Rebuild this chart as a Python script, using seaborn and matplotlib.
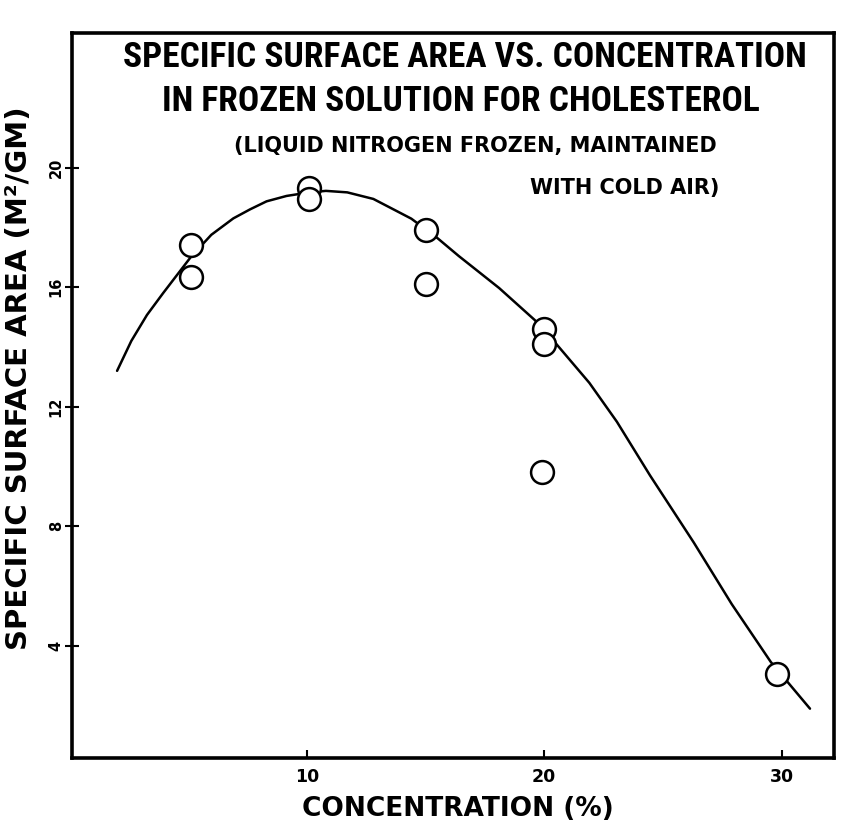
import matplotlib
matplotlib.use("Agg")
import matplotlib.pyplot as plt
import matplotlib.font_manager as fm
import seaborn as sns

# ---- data ----
conc = [5.1, 5.1, 10.1, 10.1, 15.0, 15.0, 20.0, 20.0, 19.9, 29.8]
area = [17.4, 16.35, 19.3, 18.95, 17.9, 16.1, 14.6, 14.1, 9.8, 3.05]

curve_x = [2.0, 2.6, 3.26, 3.94, 5.1, 5.97, 6.9, 7.6, 8.3, 9.14, 10.1, 10.8,
           11.7, 12.8, 13.65, 14.4, 15.5, 16.4, 17.1, 18.1, 19.6, 20.4, 21.9,
           23.06, 24.46, 26.3, 27.9, 29.55, 31.2]
curve_y = [13.2, 14.2, 15.07, 15.8, 17.0, 17.75, 18.3, 18.6, 18.87, 19.05, 19.17, 19.22,
           19.17, 18.95, 18.6, 18.29, 17.64, 17.04, 16.6, 15.97, 14.9, 14.2, 12.8,
           11.5, 9.7, 7.46, 5.4, 3.46, 1.9]

x_ticks = [10, 20, 30]
y_ticks = [4, 8, 12, 16, 20]

title_lines = ["SPECIFIC SURFACE AREA VS. CONCENTRATION",
               "IN FROZEN SOLUTION FOR CHOLESTEROL"]
note_lines = ["(LIQUID NITROGEN FROZEN, MAINTAINED",
              "WITH COLD AIR)"]
x_label = "CONCENTRATION (%)"
y_label = "SPECIFIC SURFACE AREA (M\u00b2/GM)"

sns.set_style("ticks")
plt.rcParams['font.family'] = ['DejaVu Sans']
plt.rcParams['text.color'] = 'black'
plt.rcParams['axes.labelcolor'] = 'black'
plt.rcParams['xtick.color'] = 'black'
plt.rcParams['ytick.color'] = 'black'

names = {f.name for f in fm.fontManager.ttflist}
narrow = None
for n in ['Liberation Sans Narrow', 'Roboto Condensed', 'Open Sans Condensed']:
    if n in names:
        narrow = n
        break
if narrow:
    tfont = dict(family=[narrow, 'DejaVu Sans'])
else:
    tfont = dict(family=['DejaVu Sans'], stretch='condensed')
wfont = dict(family=['DejaVu Sans'])

fig = plt.figure(figsize=(8.43, 8.36), dpi=100)
ax = fig.add_axes([0.0854, 0.0933, 0.9036, 0.8672])

sns.lineplot(x=curve_x, y=curve_y, ax=ax, color='black', linewidth=1.8, sort=False)
sns.scatterplot(x=conc, y=area, ax=ax, s=270, marker='o', zorder=3)
pts = ax.collections[-1]
pts.set_facecolor('white')
pts.set_edgecolor('black')
pts.set_linewidth(1.8)

ax.set_xlim(0.1, 32.2)
ax.set_ylim(0.25, 24.5)
ax.set_xticks(x_ticks)
ax.set_xticklabels([str(v) for v in x_ticks], fontsize=12.5, fontweight='bold',
                   color='black', **wfont)
ax.set_yticks(y_ticks)
ax.set_yticklabels([str(v) for v in y_ticks], fontsize=10.5, fontweight='bold',
                   rotation=90, va='center', color='black', **wfont)
ax.tick_params(axis='x', direction='in', length=6, width=1.5, pad=7, colors='black')
ax.tick_params(axis='y', direction='inout', length=10, width=1.5, pad=1, colors='black')
for s in ax.spines.values():
    s.set_visible(True)
    s.set_linewidth(2.6)
    s.set_color('black')

ax.set_xlabel(x_label, fontsize=19, fontweight='bold', color='black', **wfont)
ax.xaxis.set_label_coords(0.507, -0.052)
ax.set_ylabel(y_label, fontsize=21, fontweight='bold', color='black', **wfont)
ax.yaxis.set_label_coords(-0.051, 0.524)

ax.text(0.516, 0.966, title_lines[0], transform=ax.transAxes, ha='center', va='center',
        fontsize=25.5, fontweight='bold', color='black', **tfont)
ax.text(0.51, 0.905, title_lines[1], transform=ax.transAxes, ha='center', va='center',
        fontsize=25.5, fontweight='bold', color='black', **tfont)
ax.text(0.53, 0.844, note_lines[0], transform=ax.transAxes, ha='center', va='center',
        fontsize=15, fontweight='bold', color='black', **wfont)
ax.text(0.726, 0.786, note_lines[1], transform=ax.transAxes, ha='center', va='center',
        fontsize=15, fontweight='bold', color='black', **wfont)

fig.savefig("out.png", dpi=100, facecolor='white')
